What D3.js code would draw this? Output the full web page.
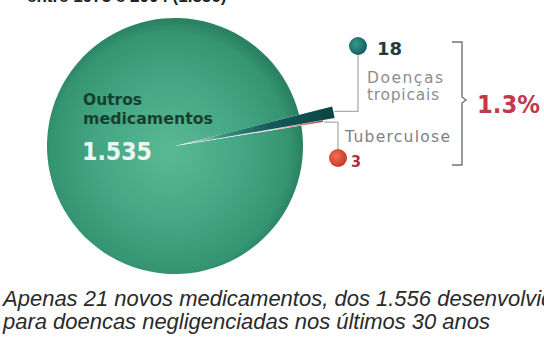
<!DOCTYPE html>
<html>
<head>
<meta charset="utf-8">
<script src="https://cdn.jsdelivr.net/npm/d3@7"></script>
<style>
  html, body { margin: 0; padding: 0; background: #fff; }
  svg { display: block; }
</style>
</head>
<body>
<script>
// Drugs developed 1975–2004, split by target
const categories = ["Doenças tropicais", "Tuberculose", "Outros medicamentos"];
const values = [18, 3, 1535];
const total = d3.sum(values);

const W = 544, H = 345;
const cx = 175, cy = 146;
const baseR = 128;
// outer radius per slice: the two small slices stick out of the sphere
const radii = [162, 150, baseR];

const svg = d3.select("body").append("svg")
  .attr("width", W).attr("height", H);

const defs = svg.append("defs");

// gradients are in the pie group's coordinates (origin = pie centre)
const gSphere = defs.append("radialGradient").attr("id", "sphere")
  .attr("gradientUnits", "userSpaceOnUse")
  .attr("cx", -5).attr("cy", 6).attr("r", baseR + 4);
gSphere.append("stop").attr("offset", "0").attr("stop-color", "#5ab995");
gSphere.append("stop").attr("offset", "0.55").attr("stop-color", "#44a684");
gSphere.append("stop").attr("offset", "0.9").attr("stop-color", "#359573");
gSphere.append("stop").attr("offset", "1").attr("stop-color", "#2a8262");

const gTrop = defs.append("radialGradient").attr("id", "trop")
  .attr("gradientUnits", "userSpaceOnUse")
  .attr("cx", 0).attr("cy", 0).attr("r", radii[0]);
gTrop.append("stop").attr("offset", "0.05").attr("stop-color", "#d9f0e6");
gTrop.append("stop").attr("offset", "0.3").attr("stop-color", "#3a8f7c");
gTrop.append("stop").attr("offset", "0.6").attr("stop-color", "#165a58");
gTrop.append("stop").attr("offset", "1").attr("stop-color", "#0c4546");

const gTb = defs.append("radialGradient").attr("id", "tb")
  .attr("gradientUnits", "userSpaceOnUse")
  .attr("cx", 0).attr("cy", 0).attr("r", radii[1]);
gTb.append("stop").attr("offset", "0.1").attr("stop-color", "#ffffff");
gTb.append("stop").attr("offset", "0.65").attr("stop-color", "#efe2e2");
gTb.append("stop").attr("offset", "1").attr("stop-color", "#b8474f");

const gDotTeal = defs.append("radialGradient").attr("id", "dotTeal")
  .attr("cx", "0.4").attr("cy", "0.4").attr("r", "0.6");
gDotTeal.append("stop").attr("offset", "0").attr("stop-color", "#3a9a90");
gDotTeal.append("stop").attr("offset", "1").attr("stop-color", "#12605e");

const gDotRed = defs.append("radialGradient").attr("id", "dotRed")
  .attr("cx", "0.4").attr("cy", "0.4").attr("r", "0.6");
gDotRed.append("stop").attr("offset", "0").attr("stop-color", "#f07050");
gDotRed.append("stop").attr("offset", "1").attr("stop-color", "#c73b2c");

// Title line, cut by the top edge
svg.append("text")
  .attr("x", 27).attr("y", 1.5)
  .attr("font-family", "Liberation Sans, Arial, sans-serif")
  .attr("font-weight", "bold").attr("font-size", 17)
  .attr("fill", "#222")
  .text("entre 1975 e 2004 (1.556)");

// Pie: small slices centred a little above the 3 o'clock direction
const midSmall = 78 * Math.PI / 180;
const smallSpan = (values[0] / total) * 2 * Math.PI;
const start = midSmall - smallSpan / 2;

const pie = d3.pie().sort(null).value(d => d)
  .startAngle(start).endAngle(start + 2 * Math.PI);
const arcs = pie(values);

const fills = ["url(#trop)", "url(#tb)", "url(#sphere)"];
const g = svg.append("g").attr("transform", `translate(${cx},${cy})`);

// big slice drawn as the sphere body first, small slices on top
[2, 1, 0].forEach(i => {
  const a = arcs[i];
  const arc = d3.arc().innerRadius(0).outerRadius(radii[i]);
  g.append("path")
    .attr("d", arc(a))
    .attr("fill", fills[i]);
});

// helper: point on the outer edge at the middle angle of slice i
function tip(i) {
  const a = arcs[i];
  const m = (a.startAngle + a.endAngle) / 2;
  return [cx + radii[i] * Math.sin(m), cy - radii[i] * Math.cos(m)];
}

const leader = "#a9aeae";
const labelFont = "DejaVu Sans, sans-serif";
const boldFont = "DejaVu Sans Condensed, DejaVu Sans, sans-serif";

// Tropical diseases callout
const t0 = tip(0);
const dotT = [358, 46];
svg.append("path")
  .attr("d", `M${t0[0] + 1},${t0[1] - 1}H${dotT[0]}V${dotT[1]}`)
  .attr("fill", "none").attr("stroke", leader).attr("stroke-width", 1.3);
svg.append("circle").attr("cx", dotT[0]).attr("cy", dotT[1]).attr("r", 9)
  .attr("fill", "url(#dotTeal)");
svg.append("text")
  .attr("x", 377).attr("y", 55)
  .attr("font-family", boldFont).attr("font-weight", "bold")
  .attr("font-size", 18).attr("fill", "#233b3c")
  .attr("textLength", 25).attr("lengthAdjust", "spacingAndGlyphs")
  .text(values[0]);
const tropLines = ["Doenças", "tropicais"];
const tropWidths = [76, 72];
svg.append("text")
  .attr("font-family", labelFont).attr("font-size", 15.5).attr("fill", "#8a8f90")
  .selectAll("tspan").data(tropLines).join("tspan")
  .attr("x", 367).attr("y", (d, i) => 83 + i * 17)
  .attr("textLength", (d, i) => tropWidths[i]).attr("lengthAdjust", "spacing")
  .text(d => d);

// Tuberculosis callout
const t1 = tip(1);
const dotR = [338, 158];
svg.append("path")
  .attr("d", `M${t1[0] + 1},${t1[1] + 1}H${dotR[0]}V${dotR[1]}`)
  .attr("fill", "none").attr("stroke", leader).attr("stroke-width", 1.3);
svg.append("circle").attr("cx", dotR[0]).attr("cy", dotR[1]).attr("r", 9)
  .attr("fill", "url(#dotRed)");
svg.append("text")
  .attr("x", 345).attr("y", 142)
  .attr("font-family", labelFont).attr("font-size", 15.5).attr("fill", "#7d8283")
  .attr("textLength", 105).attr("lengthAdjust", "spacing")
  .text(categories[1]);
svg.append("text")
  .attr("x", 351).attr("y", 167)
  .attr("font-family", boldFont).attr("font-weight", "bold")
  .attr("font-size", 16).attr("fill", "#b0323c")
  .text(values[1]);

// Bracket grouping both neglected categories
svg.append("path")
  .attr("d", "M452,42H462V97L466,100L462,103V165H452")
  .attr("fill", "none").attr("stroke", "#6f7475").attr("stroke-width", 1.4);

const share = (values[0] + values[1]) / total * 100;
svg.append("text")
  .attr("x", 477).attr("y", 113)
  .attr("font-family", boldFont).attr("font-weight", "bold")
  .attr("font-size", 24).attr("fill", "#c3394b")
  .attr("textLength", 63).attr("lengthAdjust", "spacingAndGlyphs")
  .text(d3.format(".1f")(share) + "%");

// Label inside the sphere
const outLines = ["Outros", "medicamentos"];
const outWidths = [59, 130];
svg.append("text")
  .attr("font-family", boldFont).attr("font-weight", "bold")
  .attr("font-size", 16.5).attr("fill", "#173f30")
  .selectAll("tspan").data(outLines).join("tspan")
  .attr("x", 83).attr("y", (d, i) => 105 + i * 19)
  .attr("textLength", (d, i) => outWidths[i]).attr("lengthAdjust", "spacingAndGlyphs")
  .text(d => d);
svg.append("text")
  .attr("x", 82).attr("y", 160)
  .attr("font-family", boldFont).attr("font-weight", "bold")
  .attr("font-size", 25).attr("fill", "#eef8f3")
  .attr("textLength", 70).attr("lengthAdjust", "spacingAndGlyphs")
  .text(d3.format(",")(values[2]).replace(",", "."));

// Caption (first line runs past the right edge)
const cap = svg.append("text")
  .attr("font-family", "Liberation Sans, Arial, sans-serif")
  .attr("font-style", "italic").attr("font-size", 22).attr("fill", "#2a2a2a");
cap.append("tspan").attr("x", 3).attr("y", 306)
  .text(`Apenas ${values[0] + values[1]} novos medicamentos, dos ${d3.format(",")(total).replace(",", ".")} desenvolvidos, foram`);
cap.append("tspan").attr("x", 3).attr("y", 329)
  .attr("textLength", 487).attr("lengthAdjust", "spacing")
  .text("para doencas negligenciadas nos últimos 30 anos");
</script>
</body>
</html>
